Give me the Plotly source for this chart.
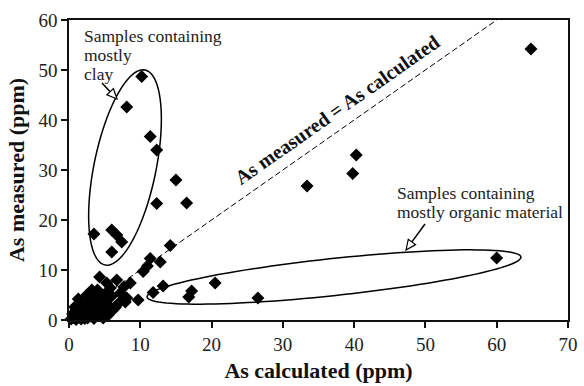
import numpy as np
import plotly.graph_objects as go

# ---------------- data ----------------
as_calculated = [
    64.8, 60.0, 40.3, 39.8, 33.4, 26.5, 20.5, 17.2, 16.8, 16.5, 15.0, 12.3, 11.4, 10.2, 8.1,
    12.3, 14.2, 11.4, 12.8, 10.4, 11.0, 8.6, 13.2, 11.8, 9.7, 8.1, 7.9, 3.5, 6.0, 6.7, 7.4,
    6.0, 4.3, 6.7, 5.3, 7.7, 7.2,
    0.3, 0.6, 0.9, 1.2, 1.5, 1.8, 2.1, 2.4, 2.7, 3.0, 3.3, 3.6, 3.9, 4.2, 4.5, 4.8, 5.1, 5.4,
    2.0, 2.8, 3.5, 1.0, 1.5, 4.0, 0.5, 2.2, 3.0, 3.8, 4.6, 5.5, 1.3, 2.5, 3.2, 6.0, 5.8,
    4.8, 5.5, 6.0, 6.5, 7.0, 3.5, 1.0, 1.7, 2.6, 4.1, 0.8, 2.0, 3.2, 4.4, 5.2,
]
as_measured = [
    54.2, 12.4, 33.0, 29.3, 26.8, 4.4, 7.4, 5.8, 4.6, 23.4, 28.0, 34.0, 36.7, 48.7, 42.6,
    23.3, 14.9, 12.3, 11.6, 9.7, 10.8, 7.4, 6.8, 5.5, 4.0, 4.4, 3.6, 17.2, 18.0, 17.0, 15.6,
    13.6, 8.6, 8.0, 7.4, 6.6, 5.4,
    0.2, 0.5, 0.3, 1.0, 0.6, 1.5, 1.0, 2.2, 1.6, 2.8, 2.0, 3.5, 2.6, 4.2, 3.2, 5.0, 4.0, 5.6,
    3.0, 3.8, 4.8, 2.0, 2.8, 6.0, 1.2, 0.3, 0.8, 1.4, 2.2, 3.0, 4.2, 5.0, 6.0, 4.8, 6.4,
    0.4, 1.0, 1.8, 2.5, 3.4, 0.3, 0.1, 0.2, 0.4, 0.9, 2.6, 1.9, 3.3, 1.9, 2.0,
]
x_ticks = [0, 10, 20, 30, 40, 50, 60, 70]
y_ticks = [0, 10, 20, 30, 40, 50, 60]
x_title = "As calculated (ppm)"
y_title = "As measured (ppm)"
line_label = "As measured = As calculated"
clay_label = ["Samples containing", "mostly", "clay"]
organic_label = ["Samples containing", "mostly organic material"]

# ---------------- geometry helpers ----------------
W, H = 584, 386
L, R, T, B = 69, 16, 20, 66
X0, X1, Y0, Y1 = 0, 70, 0, 60
PW, PH = W - L - R, H - T - B


def px2x(px):
    return X0 + (px - L) / PW * (X1 - X0)


def px2y(py):
    return Y0 + (T + PH - py) / PH * (Y1 - Y0)


def ellipse_path(cx, cy, a, b, ang_deg, n=120):
    """ellipse defined in pixel space, returned as an SVG path in data coords"""
    t = np.linspace(0, 2 * np.pi, n)
    th = np.deg2rad(ang_deg)
    ux, uy = np.cos(th), -np.sin(th)
    vx, vy = np.sin(th), np.cos(th)
    px = cx + a * np.cos(t) * ux + b * np.sin(t) * vx
    py = cy + a * np.cos(t) * uy + b * np.sin(t) * vy
    pts = [f"{px2x(x):.4f},{px2y(y):.4f}" for x, y in zip(px, py)]
    return "M" + " L".join(pts) + " Z"


def hollow_arrow(tail, tip, head_len=10, head_w=4.5):
    tx, ty = tail
    hx, hy = tip
    d = np.hypot(hx - tx, hy - ty)
    ux, uy = (hx - tx) / d, (hy - ty) / d
    bx, by = hx - ux * head_len, hy - uy * head_len
    nx, ny = -uy, ux
    line = dict(type="line", xref="x", yref="y",
                x0=px2x(tx), y0=px2y(ty), x1=px2x(bx), y1=px2y(by),
                line=dict(color="black", width=1.5))
    p1 = (bx + nx * head_w, by + ny * head_w)
    p2 = (bx - nx * head_w, by - ny * head_w)
    path = (f"M{px2x(hx):.4f},{px2y(hy):.4f} L{px2x(p1[0]):.4f},{px2y(p1[1]):.4f} "
            f"L{px2x(p2[0]):.4f},{px2y(p2[1]):.4f} Z")
    head = dict(type="path", xref="x", yref="y", path=path,
                fillcolor="white", line=dict(color="black", width=1.2))
    return [line, head]


SERIF = "Liberation Serif, Times New Roman, serif"

fig = go.Figure()

# identity line
fig.add_trace(go.Scatter(x=[0, 60], y=[0, 60], mode="lines",
                         line=dict(color="black", width=1, dash="6px,3px"),
                         hoverinfo="skip", showlegend=False))

fig.add_trace(go.Scatter(
    x=as_calculated, y=as_measured, mode="markers",
    marker=dict(symbol="diamond", size=10, color="black", line=dict(width=0)),
    cliponaxis=False, showlegend=False))

shapes = [
    dict(type="path", xref="x", yref="y", path=ellipse_path(125, 167.5, 99.5, 31, 78.4),
         line=dict(color="black", width=1.5)),
    dict(type="path", xref="x", yref="y", path=ellipse_path(334, 277, 188, 18.5, 6.1),
         line=dict(color="black", width=1.5)),
]
shapes += hollow_arrow((102, 83), (117, 99))
shapes += hollow_arrow((425, 224), (406, 250))

annotations = []
for i, txt in enumerate(clay_label):
    annotations.append(dict(x=px2x(82), y=px2y(36 + 19 * i), xref="x", yref="y", text=txt,
                            showarrow=False, xanchor="left", yanchor="middle",
                            font=dict(family=SERIF, size=17.5, color="#222")))
for i, txt in enumerate(organic_label):
    annotations.append(dict(x=px2x(395), y=px2y(193 + 19 * i), xref="x", yref="y", text=txt,
                            showarrow=False, xanchor="left", yanchor="middle",
                            font=dict(family=SERIF, size=17.5, color="#222")))
annotations.append(dict(x=px2x(336.5), y=px2y(110), xref="x", yref="y",
                        text=f"<b>{line_label}</b>", showarrow=False, textangle=-35,
                        font=dict(family=SERIF, size=20, color="#111")))

axis_common = dict(showgrid=False, zeroline=False, showline=True, linecolor="#111",
                   linewidth=1.5, mirror=True, ticks="outside", ticklen=6, tickwidth=1.5,
                   tickcolor="#111", tickfont=dict(family=SERIF, size=19, color="#222"))

fig.update_layout(
    width=W, height=H, margin=dict(l=L, r=R, t=T, b=B, autoexpand=False),
    paper_bgcolor="white", plot_bgcolor="white",
    xaxis=dict(range=[X0, X1], tickvals=x_ticks, **axis_common,
               title=dict(text=f"<b>{x_title}</b>", standoff=9,
                          font=dict(family=SERIF, size=22, color="#111"))),
    yaxis=dict(range=[Y0, Y1], tickvals=y_ticks, **axis_common,
               title=dict(text=f"<b>{y_title}</b>", standoff=8,
                          font=dict(family=SERIF, size=22, color="#111"))),
    shapes=shapes, annotations=annotations,
)

fig.write_html("out.html")
